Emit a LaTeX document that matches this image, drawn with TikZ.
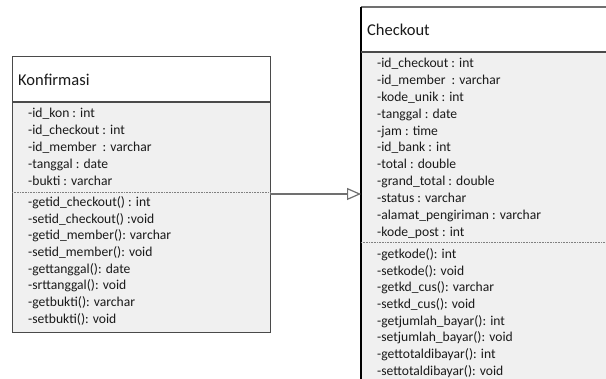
\documentclass[tikz,border=0pt]{standalone}
\usepackage{fontspec}
\setmainfont{Carlito}
\usetikzlibrary{arrows.meta}
\definecolor{bordc}{HTML}{4A4A4A}
\definecolor{bodyc}{HTML}{F0F0F0}
\definecolor{txtc}{HTML}{1A1A1A}
\definecolor{linec}{HTML}{707070}
\begin{document}
\begin{tikzpicture}[x=1pt,y=-1pt,
  classbox/.style={fill=bodyc, rectangle, anchor=north west, inner sep=0pt},
  boxline/.style={draw=bordc, line width=1pt},
  titlefill/.style={fill=white},
  sepline/.style={draw=bordc, line width=1.2pt},
  dotsep/.style={draw=gray, line width=0.8pt, dash pattern=on 1pt off 0.6pt},
  title/.style={anchor=base west, inner sep=0pt, font=\fontsize{16.5}{19}\selectfont, text=txtc},
  member/.style={anchor=base west, inner sep=0pt, font=\fontsize{13.6}{16}\selectfont, text=txtc},
  conn/.style={draw=linec, line width=1.2pt, -{Triangle[open, length=14pt, width=12pt, fill=white]}}]
\useasboundingbox (0,0) rectangle (606,379);
\clip (0,0) rectangle (606,379);
% Konfirmasi
\node[classbox, minimum width=258pt, minimum height=275pt] (kon) at (12,57) {};
\fill[titlefill] (kon.north west) rectangle (270,102);
\draw[boxline] (kon.north west) rectangle (kon.south east);
\draw[sepline] (12,102) -- (270,102);
\draw[dotsep] (12,192) -- (270,192);
\node[title] (kontitle) at (18,85.5) {Konfirmasi};
\foreach \t [count=\i] in {{-id\_kon : int},{-id\_checkout : int},{-id\_member\ \ : varchar},{-tanggal : date},{-bukti : varchar}}
  \node[member] (ka\i) at (28,{113+4.5+(\i-1)*17}) {\t};
\foreach \t [count=\i] in {{-getid\_checkout() : int},{-setid\_checkout() :void},{-getid\_member(): varchar},{-setid\_member(): void},{-gettanggal(): date},{-srttanggal(): void},{-getbukti(): varchar},{-setbukti(): void}}
  \node[member] (km\i) at (28,{202+4.5+(\i-1)*16.7}) {\t};
% Checkout
\node[classbox, minimum width=260pt, minimum height=400pt] (chk) at (361,7) {};
\fill[titlefill] (chk.north west) rectangle (620,52);
\draw[draw=linec, line width=1.2pt] (361,7) -- (620,7);
\draw[draw=black, line width=1.2pt] (361,7) -- (361,400);
\draw[sepline] (361,52) -- (620,52);
\draw[dotsep] (361,242) -- (620,242);
\node[title] (chktitle) at (367,35.5) {Checkout};
\foreach \t [count=\i] in {{-id\_checkout : int},{-id\_member\ \ : varchar},{-kode\_unik : int},{-tanggal : date},{-jam : time},{-id\_bank : int},{-total : double},{-grand\_total : double},{-status : varchar},{-alamat\_pengiriman : varchar},{-kode\_post : int}}
  \node[member] (ca\i) at (377,{63+4.5+(\i-1)*16.9}) {\t};
\foreach \t [count=\i] in {{-getkode(): int},{-setkode(): void},{-getkd\_cus(): varchar},{-setkd\_cus(): void},{-getjumlah\_bayar(): int},{-setjumlah\_bayar(): void},{-gettotaldibayar(): int},{-settotaldibayar(): void}}
  \node[member] (cm\i) at (377,{254+4.5+(\i-1)*16.7}) {\t};
% connector
\coordinate (ay) at (0,194);
\draw[conn] (kon.east |- ay) -- (chk.west |- ay);
\end{tikzpicture}
\end{document}
